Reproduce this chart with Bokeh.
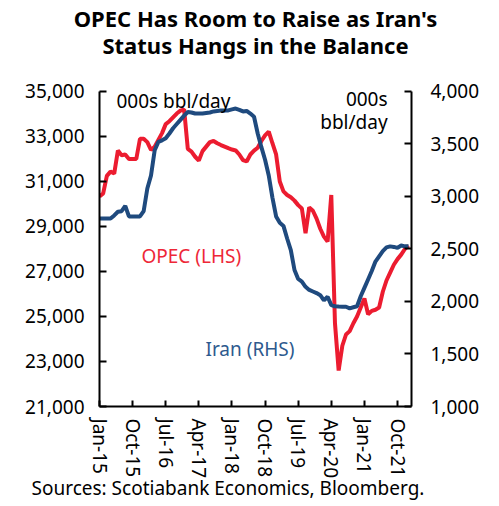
from bokeh.plotting import figure
from bokeh.models import Range1d, LinearAxis, Label, Title, FixedTicker, NumeralTickFormatter
from bokeh.embed import file_html
from bokeh.resources import INLINE

# ---- data (monthly, Jan-15 .. Jan-22) ----
months = list(range(85))
x_ticks = [0, 9, 18, 27, 36, 45, 54, 63, 72, 81]
x_tick_labels = ["Jan-15", "Oct-15", "Jul-16", "Apr-17", "Jan-18",
                 "Oct-18", "Jul-19", "Apr-20", "Jan-21", "Oct-21"]
left_ticks = [21000, 23000, 25000, 27000, 29000, 31000, 33000, 35000]
right_ticks = [1000, 1500, 2000, 2500, 3000, 3500, 4000]

opec = [30330, 30470, 31250, 31440, 31350, 32380, 32170, 32200, 32000, 32000,
        32000, 32900, 32900, 32750, 32400, 32550, 32850, 33150, 33550, 33680,
        33850, 34020, 34150, 34200, 32450, 32330, 32100, 31930, 32350, 32550,
        32750, 32800, 32700, 32620, 32550, 32480, 32420, 32380, 32200, 31950,
        31890, 32200, 32370, 32500, 32800, 33050, 33220, 32700, 32200, 31000,
        30560, 30400, 30300, 30150, 29950, 29800, 28700, 29850, 29700, 29350,
        28900, 28550, 28330, 30400, 24700, 22600, 23700, 24200, 24350, 24700,
        25000, 25400, 25800, 25100, 25250, 25300, 25400, 26100, 26600, 26950,
        27300, 27550, 27750, 28000, 28150]

iran = [2790, 2790, 2790, 2790, 2820, 2855, 2860, 2910, 2810, 2810,
        2810, 2810, 2860, 3076, 3200, 3440, 3520, 3535, 3555, 3600,
        3650, 3690, 3730, 3770, 3805, 3800, 3790, 3790, 3790, 3795,
        3800, 3810, 3815, 3820, 3820, 3820, 3830, 3838, 3825, 3810,
        3815, 3790, 3760, 3600, 3470, 3350, 3200, 2990, 2810, 2750,
        2720, 2600, 2490, 2300, 2215, 2190, 2140, 2110, 2095, 2080,
        2060, 2010, 2045, 1965, 1955, 1952, 1950, 1950, 1935, 1945,
        1955, 2050, 2130, 2210, 2290, 2380, 2430, 2480, 2515, 2525,
        2520, 2510, 2533, 2525, 2525]

title_lines = ["OPEC Has Room to Raise as Iran's", "Status Hangs in the Balance"]
source_text = "Sources: Scotiabank Economics, Bloomberg."

RED = "#EC1C30"
BLUE = "#1F4A7E"
FONT = "Noto Sans"

# ranges: a little head-room above the top tick so in-plot unit labels are not clipped
p = figure(width=483, height=500, output_backend="svg", toolbar_location=None,
           x_range=Range1d(0, 84.8), y_range=Range1d(21000, 35222),
           min_border_left=99, min_border_right=72, min_border_top=86,
           min_border_bottom=94)
p.outline_line_color = None
p.xgrid.visible = False
p.ygrid.visible = False
p.extra_y_ranges = {"iran": Range1d(1000, 4047.6)}

# two-line title (trailing blank line keeps the text clear of the plot)
p.title.text = "\n".join(title_lines) + "\n "
p.title.text_font = FONT
p.title.text_font_size = "22px"
p.title.text_font_style = "bold"
p.title.text_color = "black"
p.title.align = "center"
try:
    p.title.text_align = "center"
except Exception:
    pass
p.title.text_line_height = 0.9
p.title.standoff = 0

src = Title(text=source_text, text_font=FONT, text_font_size="19px",
            text_font_style="normal", text_color="black", align="left",
            vertical_align="top", offset=-68, standoff=-14)
p.add_layout(src, "below")

p.line(months, opec, color=RED, line_width=4)
p.line(months, iran, color=BLUE, line_width=4, y_range_name="iran")

right = LinearAxis(y_range_name="iran")
p.add_layout(right, "right")

xa = p.below[0]
la = p.left[0]
for ax in (xa, la, right):
    ax.axis_line_width = 2
    ax.axis_line_color = "black"
    ax.major_tick_line_width = 2
    ax.major_tick_line_color = "black"
    ax.major_tick_in = 7
    ax.major_tick_out = 0
    ax.minor_tick_line_color = None
    ax.major_label_text_font = FONT
    ax.major_label_text_font_size = "19px"
    ax.major_label_text_color = "black"

xa.ticker = FixedTicker(ticks=x_ticks)
xa.major_label_overrides = {t: lab for t, lab in zip(x_ticks, x_tick_labels)}
xa.major_label_orientation = "vertical"
xa.major_label_standoff = 12
xa.major_tick_in = 6

la.ticker = FixedTicker(ticks=left_ticks)
la.formatter = NumeralTickFormatter(format="0,0")
la.major_label_standoff = 15
la.bounds = (21000, 35000)

right.ticker = FixedTicker(ticks=right_ticks)
right.formatter = NumeralTickFormatter(format="0,0")
right.major_label_standoff = 19
right.bounds = (1000, 4000)


def lab(text, x, y, size="19px", color="black", align="left", rng=None):
    kw = dict(x=x, y=y, text=text, text_font=FONT, text_font_size=size,
              text_color=color, text_align=align, text_baseline="alphabetic")
    if rng:
        kw["y_range_name"] = rng
    p.add_layout(Label(**kw))


# in-plot annotations
lab("000s bbl/day", 4.6, 34560)
lab("000s", 78.3, 3924, align="right", rng="iran")
lab("bbl/day", 78.3, 3714, align="right", rng="iran")
lab("OPEC (LHS)", 11.4, 27711, color="#EE2737")
lab("Iran (RHS)", 28.8, 1552, color="#2E5A8E", rng="iran")

open("out.html", "w").write(file_html(p, INLINE))
